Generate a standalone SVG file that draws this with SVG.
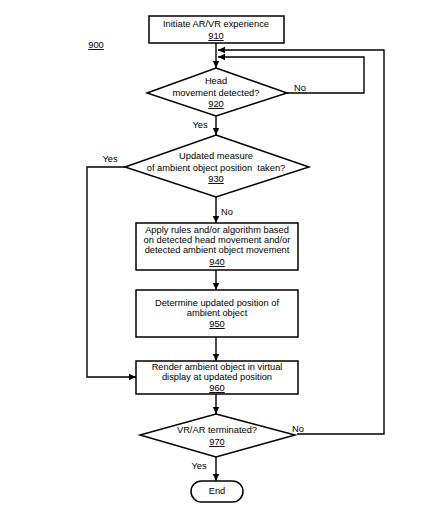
<svg xmlns="http://www.w3.org/2000/svg" width="432" height="511" viewBox="0 0 432 511">
<style>
.s{fill:#fff;stroke:#000;stroke-width:1.5}
.c{fill:none;stroke:#000;stroke-width:1.4}
text{font-family:"Liberation Sans",Arial,sans-serif;font-size:9.3px;fill:#000;text-anchor:middle}
.u{text-decoration:underline}
.l{text-anchor:start}
.p{white-space:pre}
</style>
<defs>
<marker id="a" markerWidth="8" markerHeight="8" refX="7" refY="4" orient="auto" markerUnits="userSpaceOnUse">
<path d="M0,0.8 L7,4 L0,7.2 Z" fill="#000"/>
</marker>
</defs>
<rect width="432" height="511" fill="#fff"/>
<text x="96" y="48" class="u">900</text>
<g id="connectors">
<line class="c" x1="216" y1="43" x2="216" y2="68" marker-end="url(#a)"/>
<polyline class="c" points="287,93 364,93 364,57 218,57" marker-end="url(#a)"/>
<polyline class="c" points="297,434 384,434 384,50 218,50" marker-end="url(#a)"/>
<line class="c" x1="216" y1="116" x2="216" y2="135" marker-end="url(#a)"/>
<line class="c" x1="216" y1="197" x2="216" y2="223" marker-end="url(#a)"/>
<polyline class="c" points="125,167 87,167 87,377 136,377" marker-end="url(#a)"/>
<line class="c" x1="216" y1="270" x2="216" y2="290" marker-end="url(#a)"/>
<line class="c" x1="216" y1="337" x2="216" y2="361" marker-end="url(#a)"/>
<line class="c" x1="216" y1="394" x2="216" y2="414" marker-end="url(#a)"/>
<line class="c" x1="216" y1="457" x2="216" y2="481" marker-end="url(#a)"/>
<text x="294" y="91" class="l">No</text>
<text x="200" y="128">Yes</text>
<text x="110" y="162">Yes</text>
<text x="221" y="215" class="l">No</text>
<text x="292" y="432" class="l">No</text>
<text x="199" y="469">Yes</text>
</g>
<g id="n910">
<rect class="s" x="149" y="16" width="135" height="27"/>
<text x="216" y="27">Initiate AR/VR experience</text>
<text x="216" y="39" class="u">910</text>
</g>
<g id="n920">
<polygon class="s" points="216,68 287,93 216,116 147,93"/>
<text x="216" y="84">Head</text>
<text x="216" y="96">movement detected?</text>
<text x="216" y="107" class="u">920</text>
</g>
<g id="n930">
<polygon class="s" points="216,135 309,167 216,197 125,167"/>
<text x="216" y="159">Updated measure</text>
<text x="216" y="171" class="p">of ambient object position  taken?</text>
<text x="216" y="182" class="u">930</text>
</g>
<g id="n940">
<rect class="s" x="136" y="223" width="162" height="47"/>
<text x="217" y="233">Apply rules and/or algorithm based</text>
<text x="217" y="243">on detected head movement and/or</text>
<text x="217" y="253">detected ambient object movement</text>
<text x="217" y="265" class="u">940</text>
</g>
<g id="n950">
<rect class="s" x="136" y="290" width="162" height="47"/>
<text x="217" y="306">Determine updated position of</text>
<text x="217" y="316">ambient object</text>
<text x="217" y="327" class="u">950</text>
</g>
<g id="n960">
<rect class="s" x="136" y="361" width="162" height="33"/>
<text x="217" y="370">Render ambient object in virtual</text>
<text x="217" y="380">display at updated position</text>
<text x="217" y="391" class="u">960</text>
</g>
<g id="n970">
<polygon class="s" points="216,414 295,435 216,457 140,435"/>
<text x="217" y="433">VR/AR terminated?</text>
<text x="217" y="445" class="u">970</text>
</g>
<g id="end">
<rect class="s" x="191" y="481" width="52" height="21" rx="10.5"/>
<text x="217" y="494">End</text>
</g>
</svg>
